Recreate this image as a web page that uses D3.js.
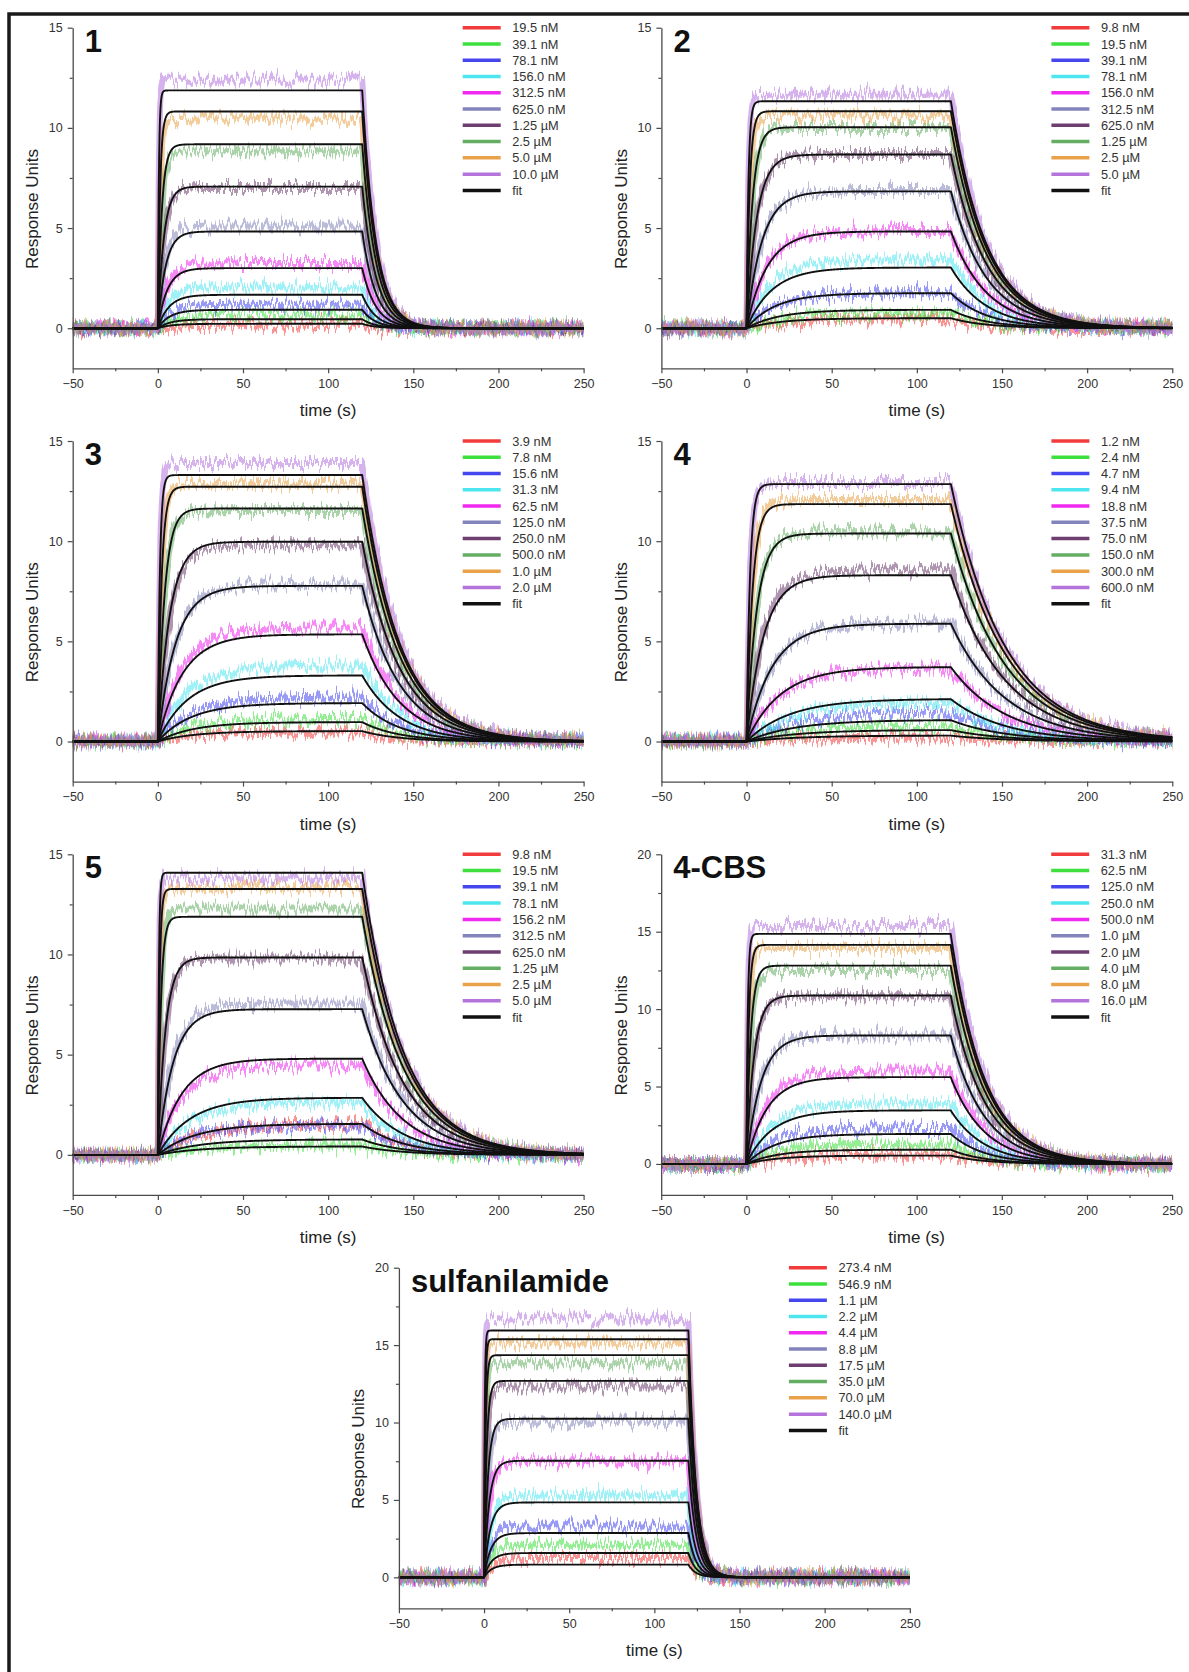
<!DOCTYPE html>
<html>
<head>
<meta charset="utf-8">
<script src="https://cdn.jsdelivr.net/npm/d3@7"></script>
<style>
  html, body { margin: 0; padding: 0; background: #fff; }
  svg { display: block; }
</style>
</head>
<body>
<svg id="fig" width="1189" height="1672"></svg>
<script>
// ---- Sensorgram data: one entry per compound panel ----
const panelNames = ["1", "2", "3", "4", "5", "4-CBS", "sulfanilamide"];
const panelYMax = [15, 15, 15, 15, 15, 20, 20];

const concentrationLabels = [
  ["19.5 nM", "39.1 nM", "78.1 nM", "156.0 nM", "312.5 nM", "625.0 nM", "1.25 µM", "2.5 µM", "5.0 µM", "10.0 µM"],
  ["9.8 nM", "19.5 nM", "39.1 nM", "78.1 nM", "156.0 nM", "312.5 nM", "625.0 nM", "1.25 µM", "2.5 µM", "5.0 µM"],
  ["3.9 nM", "7.8 nM", "15.6 nM", "31.3 nM", "62.5 nM", "125.0 nM", "250.0 nM", "500.0 nM", "1.0 µM", "2.0 µM"],
  ["1.2 nM", "2.4 nM", "4.7 nM", "9.4 nM", "18.8 nM", "37.5 nM", "75.0 nM", "150.0 nM", "300.0 nM", "600.0 nM"],
  ["9.8 nM", "19.5 nM", "39.1 nM", "78.1 nM", "156.2 nM", "312.5 nM", "625.0 nM", "1.25 µM", "2.5 µM", "5.0 µM"],
  ["31.3 nM", "62.5 nM", "125.0 nM", "250.0 nM", "500.0 nM", "1.0 µM", "2.0 µM", "4.0 µM", "8.0 µM", "16.0 µM"],
  ["273.4 nM", "546.9 nM", "1.1 µM", "2.2 µM", "4.4 µM", "8.8 µM", "17.5 µM", "35.0 µM", "70.0 µM", "140.0 µM"]
];

// Fitted response at the end of injection (t = 120 s), RU
const fitPlateau = [
  [0.22, 0.45, 0.92, 1.67, 3.0, 4.83, 7.07, 9.18, 10.82, 11.87],
  [0.5, 0.92, 1.75, 3.03, 4.83, 6.83, 8.67, 10.03, 10.83, 11.33],
  [0.52, 0.97, 1.92, 3.3, 5.35, 7.77, 9.97, 11.63, 12.72, 13.3],
  [0.3, 0.58, 1.08, 2.13, 3.72, 5.88, 8.3, 10.38, 11.85, 12.85],
  [0.42, 0.77, 1.55, 2.85, 4.8, 7.27, 9.85, 11.88, 13.27, 14.08],
  [0.54, 0.92, 1.94, 3.46, 5.61, 8.3, 10.88, 12.81, 14.15, 14.86],
  [0.82, 1.57, 2.86, 4.84, 7.53, 10.24, 12.69, 14.35, 15.38, 15.94]
];

// Measured response level during injection, RU
const measuredPlateau = [
  [0.17, 0.67, 1.17, 2.05, 3.25, 5.08, 7.0, 8.83, 10.45, 12.4],
  [0.45, 0.75, 1.75, 3.45, 4.85, 6.85, 8.7, 10.0, 10.6, 11.65],
  [0.45, 1.13, 2.2, 3.8, 5.7, 7.85, 9.8, 11.55, 12.85, 13.9],
  [0.2, 0.8, 1.47, 1.95, 3.65, 5.9, 8.55, 10.45, 12.05, 12.9],
  [1.55, 0.47, 1.47, 2.63, 4.47, 7.55, 9.8, 12.3, 13.3, 13.8],
  [0.6, 1.25, 2.32, 3.93, 5.97, 8.3, 10.83, 12.53, 13.94, 15.37],
  [1.25, 2.11, 3.29, 5.27, 7.5, 10.06, 12.32, 13.83, 15.12, 16.73]
];

// Association time constants 1/kobs (s)
const onsetTau = [
  [7.8, 7.5, 7.0, 6.5, 5.5, 4.5, 3.5, 2.3, 1.3, 0.6],
  [20, 19, 17, 15, 12, 9, 6, 3.5, 1.8, 1.1],
  [21, 20.5, 19.5, 17.5, 14.5, 10.5, 7, 4, 2.2, 1.2],
  [30, 29, 28, 25, 20, 15, 10, 6, 3.5, 2],
  [25, 24, 22, 19, 14, 9, 4.5, 1.8, 1.0, 0.6],
  [18.5, 18, 17, 15, 12, 8.5, 4.5, 2.5, 1.4, 0.8],
  [4.4, 4.2, 4.0, 3.6, 3.0, 2.3, 1.5, 0.9, 0.6, 0.4]
];

// Dissociation time constants 1/kd (s)
const offTau = [8, 21, 22, 32, 24, 20, 4.5];

const injectionEnd = 120;
const timeDomain = [-50, 250];
const xTicks = [-50, 0, 50, 100, 150, 200, 250];
const xMinorTicks = [-25, 25, 75, 125, 175, 225];
const yTicks15 = [0, 5, 10, 15];
const yTicks20 = [0, 5, 10, 15, 20];
const yMinor15 = [2.5, 7.5, 12.5];
const yMinor20 = [2.5, 7.5, 12.5, 17.5];

const seriesColors = ["#f23c3c", "#3ee03e", "#4646ee", "#4ee6ee", "#f028f0",
                      "#8484bc", "#6e3e70", "#64ae64", "#eaa24a", "#b474dc"];

// ---- Layout ----
const panelLeft = [72.7, 661.4, 72.7, 661.4, 72.7, 661.2, 398.9];
const panelTop = [27.7, 27.7, 441, 441, 854.3, 854.3, 1267.7];
const plotW = 510.9, plotH = 340.6;
const FONT = "'Liberation Sans', Arial, Helvetica, sans-serif";
const AXIS = "#4a4a4a";

const svg = d3.select("#fig");
const defs = svg.append("defs");

// frame around the figure
svg.append("path")
  .attr("d", "M9,1672V14H1189")
  .attr("fill", "none").attr("stroke", "#1a1a1a").attr("stroke-width", 3.5);

// 1:1 binding response: association during injection, then dissociation
function response(t, plateau, tauOn, tauOff) {
  if (t <= 0) return 0;
  if (t <= injectionEnd) return plateau * (1 - Math.exp(-t / tauOn));
  const r = plateau * (1 - Math.exp(-injectionEnd / tauOn));
  return r * Math.exp(-(t - injectionEnd) / tauOff);
}

const times = d3.range(timeDomain[0], timeDomain[1] + 0.001, 0.25);

panelNames.forEach((name, p) => {
  const L = panelLeft[p], T = panelTop[p];
  const yMax = panelYMax[p];
  const x = d3.scaleLinear().domain(timeDomain).range([L, L + plotW]);
  const y = d3.scaleLinear().domain([-2, yMax]).range([T + plotH, T]);
  const line = d3.line().x(d => x(d[0])).y(d => y(d[1]));
  const g = svg.append("g").attr("class", "panel");

  // measurement noise texture for the raw traces
  seriesColors.forEach((c, i) => {
    const f = defs.append("filter")
      .attr("id", `jit-${p}-${i}`)
      .attr("filterUnits", "userSpaceOnUse")
      .attr("x", L - 6).attr("y", T - 16)
      .attr("width", plotW + 12).attr("height", plotH + 32)
      .attr("color-interpolation-filters", "sRGB");
    f.append("feTurbulence")
      .attr("type", "fractalNoise").attr("baseFrequency", "0.42 0.02")
      .attr("numOctaves", 3).attr("seed", p * 11 + i + 3).attr("result", "turb");
    f.append("feColorMatrix").attr("in", "turb").attr("type", "matrix")
      .attr("values", "0 0 0 0 0.5  0 1 0 0 0  0 0 1 0 0  0 0 0 0 1")
      .attr("result", "disp");
    f.append("feDisplacementMap")
      .attr("in", "SourceGraphic").attr("in2", "disp").attr("scale", 26)
      .attr("xChannelSelector", "R").attr("yChannelSelector", "G")
      .attr("result", "jag");
    f.append("feGaussianBlur").attr("in", "jag").attr("stdDeviation", "0.4");
  });

  // raw sensorgrams
  const raw = g.append("g");
  seriesColors.forEach((c, i) => {
    const pts = times.map(t => [t, response(t, measuredPlateau[p][i], onsetTau[p][i], offTau[p])]);
    raw.append("path")
      .attr("d", line(pts))
      .attr("fill", "none")
      .attr("stroke", c)
      .attr("stroke-width", 6)
      .attr("stroke-opacity", 0.55)
      .attr("stroke-linejoin", "round")
      .attr("filter", `url(#jit-${p}-${i})`);
  });

  // global fit curves
  const fits = g.append("g");
  seriesColors.forEach((c, i) => {
    const pts = times.map(t => [t, response(t, fitPlateau[p][i], onsetTau[p][i], offTau[p])]);
    fits.append("path")
      .attr("d", line(pts))
      .attr("fill", "none")
      .attr("stroke", "#111")
      .attr("stroke-width", 1.9)
      .attr("stroke-linejoin", "round");
  });

  // axes
  const styleAxis = sel => {
    sel.attr("font-family", FONT).attr("font-size", 12.5);
    sel.selectAll(".domain").attr("stroke", AXIS).attr("stroke-width", 1.3);
    sel.selectAll(".tick line").attr("stroke", AXIS).attr("stroke-width", 1.2);
    sel.selectAll(".tick text").attr("fill", "#333");
  };
  g.append("g")
    .attr("transform", `translate(0,${T + plotH})`)
    .call(d3.axisBottom(x).tickValues(xTicks).tickSize(5).tickSizeOuter(0).tickPadding(6))
    .call(styleAxis);
  g.append("g")
    .attr("transform", `translate(0,${T + plotH})`)
    .call(d3.axisBottom(x).tickValues(xMinorTicks).tickSize(3).tickFormat(""))
    .call(styleAxis)
    .call(s => s.select(".domain").remove());
  g.append("g")
    .attr("transform", `translate(${L},0)`)
    .call(d3.axisLeft(y).tickValues(yMax === 20 ? yTicks20 : yTicks15).tickSize(5).tickSizeOuter(0).tickPadding(5))
    .call(styleAxis);
  g.append("g")
    .attr("transform", `translate(${L},0)`)
    .call(d3.axisLeft(y).tickValues(yMax === 20 ? yMinor20 : yMinor15).tickSize(3).tickFormat(""))
    .call(styleAxis)
    .call(s => s.select(".domain").remove());

  // axis titles
  g.append("text")
    .attr("x", L + plotW / 2).attr("y", T + plotH + 48)
    .attr("text-anchor", "middle")
    .attr("font-family", FONT).attr("font-size", 17).attr("fill", "#222")
    .text("time (s)");
  g.append("text")
    .attr("transform", `translate(${L - 34.5},${T + plotH / 2 + 11}) rotate(-90)`)
    .attr("text-anchor", "middle")
    .attr("font-family", FONT).attr("font-size", 17).attr("fill", "#222")
    .text("Response Units");

  // panel title
  g.append("text")
    .attr("x", L + 12).attr("y", T + 24)
    .attr("font-family", FONT).attr("font-size", 31).attr("font-weight", "bold")
    .attr("fill", "#111")
    .text(name);

  // legend
  const legend = g.append("g");
  const entries = concentrationLabels[p].map((lab, i) => ({ lab, color: seriesColors[i] }))
    .concat([{ lab: "fit", color: "#111" }]);
  entries.forEach((e, i) => {
    const ly = T + i * 16.27;
    legend.append("line")
      .attr("x1", L + 390).attr("x2", L + 428)
      .attr("y1", ly).attr("y2", ly)
      .attr("stroke", e.color).attr("stroke-width", 3.5);
    legend.append("text")
      .attr("x", L + 439.5).attr("y", ly).attr("dy", "0.36em")
      .attr("font-family", FONT).attr("font-size", 12.8).attr("fill", "#333")
      .text(e.lab);
  });
});
</script>
</body>
</html>
